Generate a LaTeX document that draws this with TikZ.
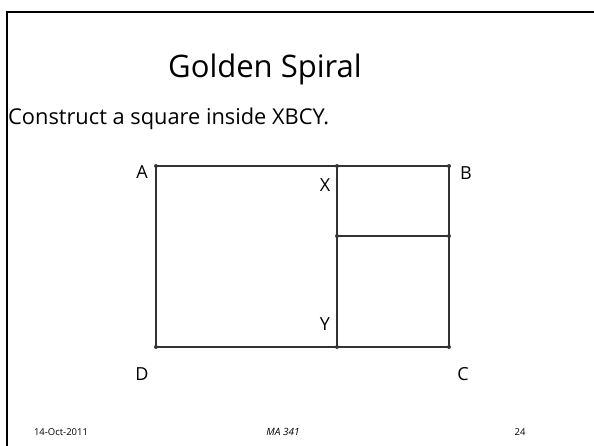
\documentclass[tikz,border=0pt]{standalone}
\usepackage{fontspec}
\setmainfont{Open Sans}
\usetikzlibrary{positioning}

\tikzset{
  edge/.style={draw=black!80,line width=1.1pt},
  pt/.style={circle,fill=black!75,inner sep=0pt,minimum size=4pt},
  lbl/.style={font=\fontsize{18}{21}\selectfont},
  foot/.style={font=\fontsize{9.5}{11}\selectfont}
}

\begin{document}
\begin{tikzpicture}[x=1pt,y=1pt]
  \useasboundingbox (0,0) rectangle (594,446);
  % slide frame
  \draw[line width=2pt] (6.5,0) -- (6.5,434) -- (594,434);

  % title and task
  \node (title) at (265,377) {\fontsize{31}{36}\selectfont Golden Spiral};
  \node[anchor=west,inner sep=0pt] (task) at (8,327) {\fontsize{21.8}{26}\selectfont Construct a square inside XBCY.};

  % corners
  \node[pt] (A) at (156,280) {};
  \node[pt] (X) at (337,280) {};
  \node[pt] (B) at (449,280) {};
  \node[pt] (P) at (337,210) {};
  \node[pt] (Q) at (449,210) {};
  \node[pt] (D) at (156,99) {};
  \node[pt] (Y) at (337,99) {};
  \node[pt] (C) at (449,99) {};

  % rectangle ABCD and the square
  \draw[edge] (A.center) -- (X.center) -- (B.center) -- (Q.center) -- (C.center)
    -- (Y.center) -- (D.center) -- cycle;
  \draw[edge] (X.center) -- (P.center) -- (Y.center);
  \draw[edge] (P.center) -- (Q.center);

  % labels
  \node[lbl] at (142,274) {A};
  \node[lbl] at (325,261) {X};
  \node[lbl] at (466,273) {B};
  \node[lbl] at (142,72) {D};
  \node[lbl] at (325,122) {Y};
  \node[lbl] at (463,72) {C};

  % footer
  \node[foot] (date) at (61,14) {14-Oct-2011};
  \node[foot,font=\itshape] (course) at (283,14) {MA 341};
  \node[foot] (page) at (520,14) {24};
\end{tikzpicture}
\end{document}
